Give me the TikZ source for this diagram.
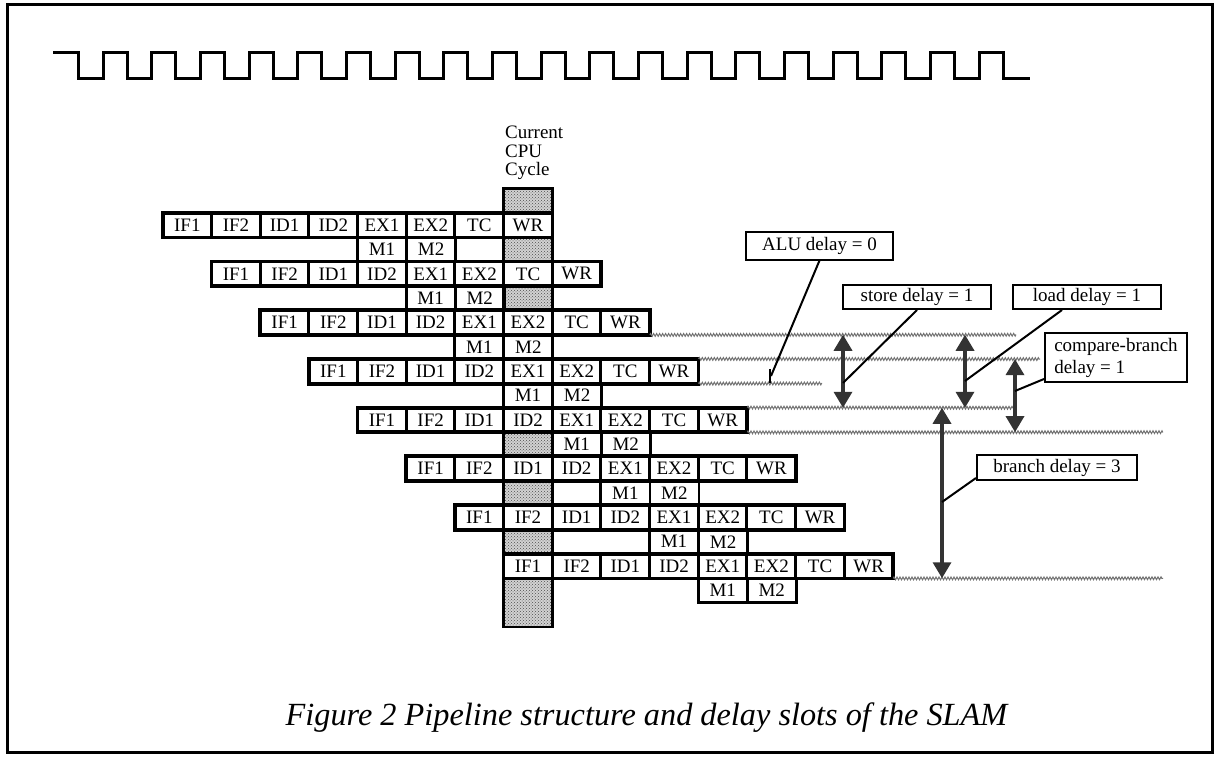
\documentclass[tikz,border=0pt]{standalone}
\usepackage{fontspec}
\setmainfont{Liberation Serif}
\usetikzlibrary{arrows.meta,decorations.pathmorphing,patterns,calc,positioning}

\tikzset{
  cellfont/.style={font=\fontsize{19}{21}\selectfont},
  stage/.style={cellfont, rectangle, inner sep=0pt, minimum width=48.67pt,
                minimum height=24.35pt, fill=white},
  rowframe/.style={line width=3.8pt},
  sepline/.style={line width=2.8pt},
  mframe/.style={line width=2.8pt},
  clockline/.style={line width=3pt},
  wavy/.style={black!55, line width=1pt, decorate,
               decoration={zigzag, segment length=3pt, amplitude=1.4pt}},
  delayarrow/.style={black!80, line width=3.4pt,
               {Triangle[width=18pt,length=16pt]}-{Triangle[width=18pt,length=16pt]}},
  leader/.style={line width=2pt},
  labelbox/.style={draw, line width=2pt, cellfont, inner sep=0pt, align=center},
}

\begin{document}
\begin{tikzpicture}[x=1pt, y=-1pt]
\useasboundingbox (0,0) rectangle (1216,757);

% outer frame
\draw[line width=3pt] (7,5) rectangle (1212,752);

% clock signal
\draw[clockline] (53,53) foreach \k in {0,...,18} {
    -- ({78.5+48.67*\k},53) -- ++(0,26) -- ++(24.5,0) -- ++(0,-26) }
  -- (1003.2,53) -- ++(0,26) -- (1030,79);

% current CPU cycle column (shaded)
\coordinate (colTop) at (503.69,188.65);
\coordinate (colBot) at (552.36,627);
\fill[gray!35] (colTop) rectangle (colBot);
\fill[pattern=crosshatch dots, pattern color=black!70] (colTop) rectangle (colBot);

% pipeline rows
\foreach \r in {0,...,7} {
  \foreach \s [count=\i from 0] in {IF1,IF2,ID1,ID2,EX1,EX2,TC,WR} {
    \pgfmathsetmacro\cx{163+48.67*(\r+\i+0.5)}
    \pgfmathsetmacro\cy{213+48.7*\r+12.175}
    \node[stage] (s-\r-\i) at (\cx,\cy) {\s};
  }
  \pgfmathsetmacro\mx{163+48.67*(\r+4.5)}
  \pgfmathsetmacro\my{213+48.7*\r+36.525}
  \node[stage] (m-\r-1) at (\mx,\my) {M1};
  \node[stage, right=0pt of m-\r-1] (m-\r-2) {M2};
  \draw[mframe] (m-\r-1.north west) rectangle (m-\r-2.south east);
  \draw[mframe] (m-\r-2.north west) -- (m-\r-2.south west);
  \foreach \i in {1,...,7} {
    \draw[sepline] (s-\r-\i.north west) -- (s-\r-\i.south west);
  }
  \draw[rowframe] (s-\r-0.north west) rectangle (s-\r-7.south east);
}

\draw[line width=2.8pt] (colTop) rectangle (colBot);

\node[font=\fontsize{19}{18.5}\selectfont, align=left, anchor=north west,
      inner sep=0pt] (cur) at (505,126) {Current\\CPU\\Cycle};

% delay boundaries
\coordinate (wA) at (1016,334.75);
\coordinate (wB) at (1040,359.1);
\coordinate (wC) at (822,383.45);
\coordinate (wD) at (1013,407.8);
\coordinate (wE) at (1163,432.15);
\coordinate (wF) at (1163,578.25);
\draw[wavy] (s-2-7.south east) -- (wA);
\draw[wavy] (s-3-7.north east) -- (wB);
\draw[wavy] (s-3-7.south east) -- (wC);
\draw[wavy] (s-4-7.north east) -- (wD);
\draw[wavy] (s-4-7.south east) -- (wE);
\draw[wavy] (s-7-7.south east) -- (wF);

% delay arrows
\coordinate (stT) at (843,334.75);  \coordinate (stB) at (843,407.8);
\coordinate (ldT) at (965,334.75);  \coordinate (ldB) at (965,407.8);
\coordinate (cbT) at (1015,359.1);  \coordinate (cbB) at (1015,432.15);
\coordinate (brT) at (942,407.8);   \coordinate (brB) at (942,578.25);
\coordinate (aluT) at (770,369);    \coordinate (aluB) at (770,383.45);
\draw[delayarrow] (stT) -- (stB);
\draw[delayarrow] (ldT) -- (ldB);
\draw[delayarrow] (cbT) -- (cbB);
\draw[delayarrow] (brT) -- (brB);
\draw[line width=2.4pt] (aluT) -- (aluB);

% labels
\node[labelbox, minimum width=147pt, minimum height=28pt] (alu) at (819.5,245.5) {ALU delay = 0};
\node[labelbox, minimum width=148pt, minimum height=24pt] (store) at (917,297) {store delay = 1};
\node[labelbox, minimum width=148pt, minimum height=24pt] (load) at (1087,297) {load delay = 1};
\node[labelbox, minimum width=142pt, minimum height=49pt, align=left,
      font=\fontsize{19}{22}\selectfont] (cmp) at (1116,357.5) {compare-branch\\delay = 1};
\node[labelbox, minimum width=160pt, minimum height=25pt] (branch) at (1057,467.5) {branch delay = 3};

% leaders
\coordinate (aluP) at (771,376);
\coordinate (stP) at (843,383);
\coordinate (ldP) at (965,381);
\coordinate (cbP) at (1015,391);
\coordinate (brP) at (942,502);
\draw[leader] (alu.south) -- (aluP);
\draw[leader] (store.south) -- (stP);
\draw[leader] ($(load.south)+(-25,0)$) -- (ldP);
\draw[leader] ($(cmp.south west)+(0,-4)$) -- (cbP);
\draw[leader] ($(branch.south west)+(0,-3)$) -- (brP);

% caption
\node[font=\fontsize{32.3}{37}\selectfont\itshape, anchor=base, inner sep=0pt] (cap)
  at (646.5,725) {Figure 2 Pipeline structure and delay slots of the SLAM};
\end{tikzpicture}
\end{document}
